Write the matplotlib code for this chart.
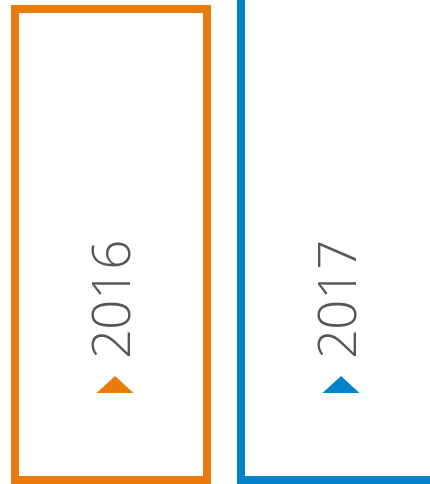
import matplotlib
matplotlib.use("Agg")
import matplotlib.pyplot as plt
from matplotlib.patches import Rectangle, Polygon

# Data
years = ["2016", "2017"]
colors = ["#EA7A0B", "#0083CA"]
text_color = "#555555"

# Layout (pixel coordinates, y downward)
W, H = 431, 485
boxes = [(15, 10, 207, 481), (241, -20, 432.5, 481)]  # left, top, right, bottom (line centers)
text_x = [115, 341]
text_y = 296
tri_y = (377, 394)
tri_half = 18.5
lw_px = 8

fig = plt.figure(figsize=(W / 100, H / 100), dpi=100)
ax = fig.add_axes([0, 0, 1, 1])
ax.set_xlim(0, W)
ax.set_ylim(H, 0)
ax.axis("off")

for yr, col, (l, t, r, b), tx in zip(years, colors, boxes, text_x):
    ax.add_patch(Rectangle((l, t), r - l, b - t, fill=False, edgecolor=col,
                           linewidth=lw_px * 72 / 100, joinstyle="miter"))
    ax.text(tx, text_y, yr, rotation=90, ha="center", va="center",
            fontsize=38, color=text_color, family=["Open Sans", "DejaVu Sans"],
            fontweight=300)
    ax.add_patch(Polygon([(tx - tri_half, tri_y[1]), (tx + tri_half, tri_y[1]),
                          (tx, tri_y[0])], closed=True, facecolor=col,
                         edgecolor="none"))

fig.savefig("out.png", dpi=100)
